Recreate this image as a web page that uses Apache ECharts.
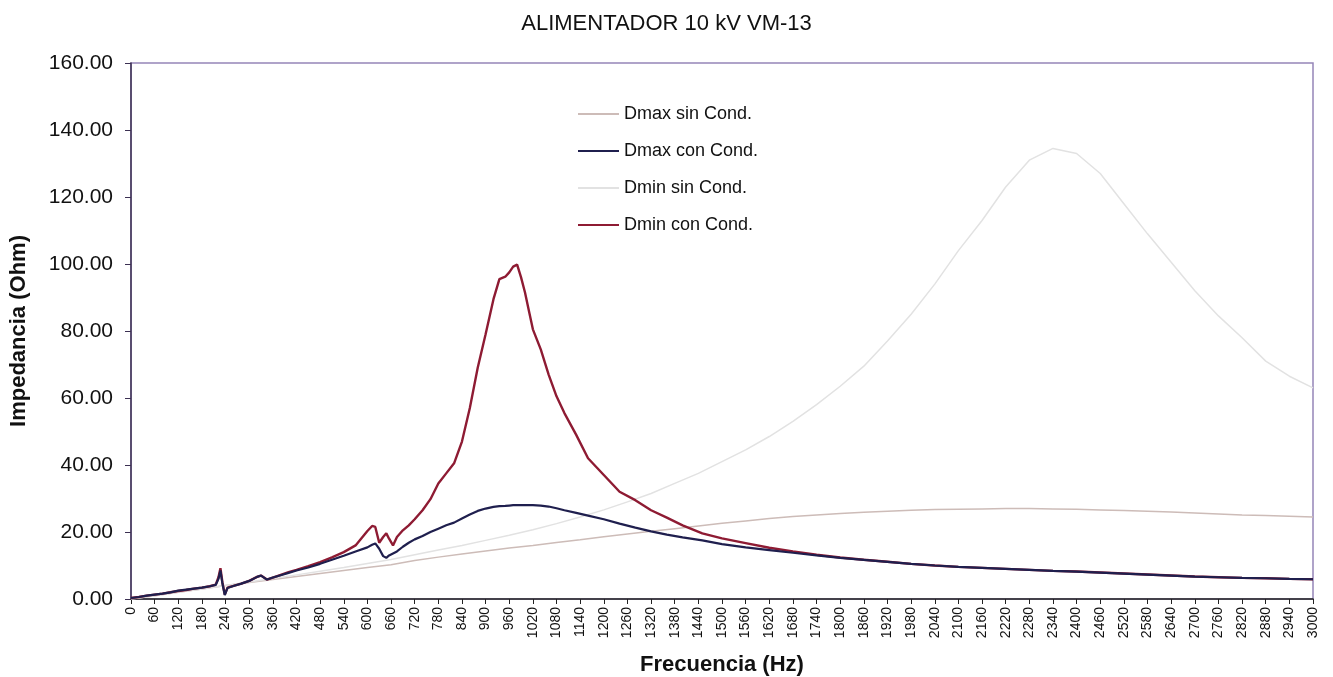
<!DOCTYPE html>
<html>
<head>
<meta charset="utf-8">
<script src="https://cdn.jsdelivr.net/npm/echarts@6/dist/echarts.min.js"></script>
<style>
  html, body { margin: 0; padding: 0; background: #fff; }
  #chart { width: 1333px; height: 677px; }
</style>
</head>
<body>
<div id="chart"></div>
<script>
// frecuencias con paso irregular (mas puntos cerca de los picos)
const freqCon = [0, 20, 40, 60, 80, 100, 120, 140, 160, 180, 200, 215, 222, 227, 232, 238, 245, 260, 280, 300,
  320, 330, 345, 360, 380, 400, 420, 450, 480, 510, 540, 570, 600, 612, 620, 630, 640, 648, 655, 665,
  675, 690, 705, 720, 740, 760, 780, 800, 820, 840, 860, 880, 900, 920, 935, 950, 960, 970, 980, 990,
  1000, 1010, 1020, 1040, 1060, 1080, 1100, 1130, 1160, 1200, 1240, 1280, 1320, 1360, 1400, 1450, 1500, 1560, 1620, 1680,
  1740, 1800, 1860, 1920, 1980, 2040, 2100, 2160, 2220, 2280, 2340, 2400, 2460, 2520, 2580, 2640, 2700, 2760, 2820, 2880,
  2940, 3000]

const dmaxCon = [0.3, 0.6, 1.0, 1.3, 1.6, 2.0, 2.5, 2.8, 3.1, 3.4, 3.8, 4.2, 6.0, 8.5, 4.6, 1.2, 3.3, 3.9, 4.6, 5.4,
  6.6, 7.0, 5.8, 6.4, 7.1, 7.8, 8.5, 9.4, 10.5, 11.7, 12.9, 14.2, 15.4, 16.2, 16.6, 15.0, 12.8, 12.3, 13.0, 13.6,
  14.2, 15.6, 16.8, 17.8, 18.8, 20.0, 21.0, 22.0, 22.8, 24.0, 25.2, 26.3, 27.0, 27.5, 27.7, 27.8, 27.9, 28.0, 28.0, 28.0,
  28.0, 28.0, 28.0, 27.9, 27.6, 27.1, 26.5, 25.7, 24.9, 23.8, 22.5, 21.3, 20.2, 19.2, 18.4, 17.5, 16.4, 15.4, 14.6, 13.8,
  13.0, 12.3, 11.7, 11.1, 10.5, 10.0, 9.6, 9.3, 9.0, 8.7, 8.4, 8.2, 7.9, 7.6, 7.3, 7.0, 6.7, 6.5, 6.3, 6.2,
  6.0, 5.9]

const dminCon = [0.3, 0.6, 1.0, 1.3, 1.6, 2.0, 2.4, 2.7, 3.1, 3.4, 3.8, 4.3, 6.5, 9.2, 5.0, 1.3, 3.4, 3.9, 4.6, 5.4,
  6.6, 7.0, 5.8, 6.4, 7.2, 8.0, 8.7, 9.8, 11.0, 12.4, 14.0, 16.0, 20.3, 21.8, 21.5, 16.8, 18.5, 19.6, 18.0, 16.0,
  18.5, 20.5, 22.0, 23.8, 26.5, 29.8, 34.5, 37.5, 40.5, 47.0, 57.0, 69.0, 79.0, 89.5, 95.5, 96.2, 97.5, 99.2, 99.8, 96.0,
  91.5, 86.0, 80.5, 74.5, 67.0, 60.5, 55.5, 49.0, 42.0, 37.0, 32.0, 29.5, 26.5, 24.3, 22.0, 19.6, 18.1, 16.7, 15.3, 14.2,
  13.2, 12.4, 11.7, 11.1, 10.5, 10.0, 9.6, 9.3, 9.0, 8.7, 8.4, 8.2, 7.9, 7.6, 7.3, 7.0, 6.7, 6.5, 6.3, 6.2,
  6.0, 5.9]

// sin condensadores, paso de 60 Hz
const freqSin = [0, 60, 120, 180, 240, 300, 360, 420, 480, 540, 600, 660, 720, 780, 840, 900, 960, 1020, 1080, 1140,
  1200, 1260, 1320, 1380, 1440, 1500, 1560, 1620, 1680, 1740, 1800, 1860, 1920, 1980, 2040, 2100, 2160, 2220, 2280, 2340,
  2400, 2460, 2520, 2580, 2640, 2700, 2760, 2820, 2880, 2940, 3000]

const dmaxSin = [0, 1.0, 2.0, 3.0, 4.0, 4.9, 5.8, 6.7, 7.6, 8.5, 9.4, 10.2, 11.5, 12.5, 13.4, 14.3, 15.2, 16.0, 16.9, 17.7,
  18.6, 19.4, 20.2, 21.0, 21.8, 22.6, 23.3, 24.0, 24.6, 25.1, 25.5, 25.9, 26.2, 26.5, 26.7, 26.8, 26.9, 27.0, 27.0, 26.9,
  26.8, 26.6, 26.4, 26.2, 26.0, 25.7, 25.4, 25.1, 24.9, 24.7, 24.5]

const dminSin = [0, 1.0, 2.0, 3.0, 4.0, 5.1, 6.1, 7.2, 8.3, 9.4, 10.6, 11.8, 13.2, 14.6, 16.0, 17.5, 19.0, 20.7, 22.5, 24.5,
  26.6, 29.0, 31.5, 34.5, 37.5, 41.0, 44.5, 48.5, 53.0, 58.0, 63.5, 69.5, 77.0, 85.0, 94.0, 104.0, 113.0, 123.0, 131.0, 134.5,
  133.0, 127.0, 118.0, 109.0, 100.5, 92.0, 84.5, 78.0, 71.0, 66.5, 63.0]

const pairs = (xs, ys) => xs.map((x, i) => [x, ys[i]])

const myChart = echarts.init(document.getElementById('chart'))

const option = {
  backgroundColor: '#fff',
  animation: false,
  textStyle: { fontFamily: 'Liberation Sans, Arial, sans-serif' },
  title: {
    text: 'ALIMENTADOR 10 kV VM-13',
    left: 'center',
    top: 8,
    textStyle: { fontSize: 22, fontWeight: 'normal', color: '#111' }
  },
  legend: {
    orient: 'vertical',
    left: 572,
    top: 100,
    itemWidth: 41,
    itemHeight: 14,
    itemGap: 19,
    itemStyle: { opacity: 0 },
    textStyle: { fontSize: 18, color: '#111' },
    data: ['Dmax sin Cond.', 'Dmax con Cond.', 'Dmin sin Cond.', 'Dmin con Cond.']
  },
  grid: {
    left: 131,
    right: 20,
    top: 63,
    bottom: 78,
    outerBoundsMode: 'none',
    show: true,
    borderColor: '#9585b8',
    borderWidth: 1.5
  },
  xAxis: {
    type: 'value',
    min: 0,
    max: 3000,
    interval: 60,
    name: 'Frecuencia (Hz)',
    nameLocation: 'middle',
    nameGap: 55,
    nameTextStyle: { fontSize: 22, fontWeight: 'bold', color: '#111' },
    axisLine: { lineStyle: { color: '#222', width: 1.5 } },
    axisTick: { length: 5, lineStyle: { color: '#222' } },
    axisLabel: { rotate: 90, fontSize: 14, color: '#111', margin: 8, formatter: v => String(v) },
    splitLine: { show: false }
  },
  yAxis: {
    type: 'value',
    min: 0,
    max: 160,
    interval: 20,
    name: 'Impedancia (Ohm)',
    nameLocation: 'middle',
    nameGap: 101,
    nameTextStyle: { fontSize: 22, fontWeight: 'bold', color: '#111' },
    axisLine: { show: true, lineStyle: { color: '#3c3052', width: 1.5 } },
    axisTick: { show: true, length: 6, lineStyle: { color: '#3c3052' } },
    axisLabel: {
      fontSize: 21,
      color: '#111',
      margin: 18,
      formatter: v => v.toFixed(2)
    },
    splitLine: { show: false }
  },
  series: [
    {
      name: 'Dmax sin Cond.',
      type: 'line',
      symbol: 'none',
      data: pairs(freqSin, dmaxSin),
      lineStyle: { color: '#cdbcb8', width: 1.5 },
      itemStyle: { color: '#cdbcb8' },
      z: 1
    },
    {
      name: 'Dmax con Cond.',
      type: 'line',
      symbol: 'none',
      data: pairs(freqCon, dmaxCon),
      lineStyle: { color: '#1f1f4e', width: 2.2 },
      itemStyle: { color: '#1f1f4e' },
      z: 3
    },
    {
      name: 'Dmin sin Cond.',
      type: 'line',
      symbol: 'none',
      data: pairs(freqSin, dminSin),
      lineStyle: { color: '#e2e2e2', width: 1.5 },
      itemStyle: { color: '#e2e2e2' },
      z: 1
    },
    {
      name: 'Dmin con Cond.',
      type: 'line',
      symbol: 'none',
      data: pairs(freqCon, dminCon),
      lineStyle: { color: '#8e1b33', width: 2.4 },
      itemStyle: { color: '#8e1b33' },
      z: 2
    }
  ]
}

option && myChart.setOption(option)
</script>
</body>
</html>
